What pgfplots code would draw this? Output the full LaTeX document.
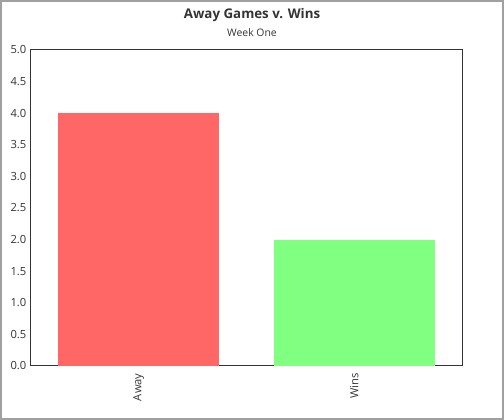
\documentclass[border=0pt]{standalone}
\usepackage{pgfplots}
\pgfplotsset{compat=1.18}
\usepackage{fontspec}
\setmainfont{Open Sans}
\definecolor{txt}{HTML}{333333}
\definecolor{barred}{HTML}{FF6666}
\definecolor{bargreen}{HTML}{80FF80}
\definecolor{frame}{HTML}{A0A0A0}
\begin{document}
\begin{tikzpicture}[x=1pt,y=1pt]
\path[draw=frame,line width=1.2pt] (0.6,0.6) rectangle (377.4,314.4);
\node[font=\bfseries\fontsize{10}{12}\selectfont,text=txt] at (189,303.5) {Away Games v. Wins};
\node[font=\fontsize{7.8}{9}\selectfont,text=txt] at (189,290.5) {Week One};
\begin{axis}[
  at={(23.25pt,40.5pt)}, anchor=south west,
  scale only axis, width=323.25pt, height=237pt,
  xmin=-0.5, xmax=1.5, ymin=0, ymax=5,
  ytick={0,0.5,...,5},
  yticklabel style={/pgf/number format/.cd,fixed,fixed zerofill,precision=1},
  /pgf/number format/assume math mode=true,
  xtick={0,1}, xticklabels={Away,Wins},
  xticklabel style={rotate=90,anchor=east},
  xticklabel shift=2pt,
  tick label style={font=\fontsize{8.4}{10}\selectfont,text=txt},
  major tick length=0pt,
  axis line style={draw=txt,line width=0.75pt},
  ybar, bar width=0.745, bar shift=0pt,
]
\addplot[fill=barred,draw=none] coordinates {(0,4.0)};
\addplot[fill=bargreen,draw=none] coordinates {(1,2.0)};
\end{axis}
\end{tikzpicture}
\end{document}
